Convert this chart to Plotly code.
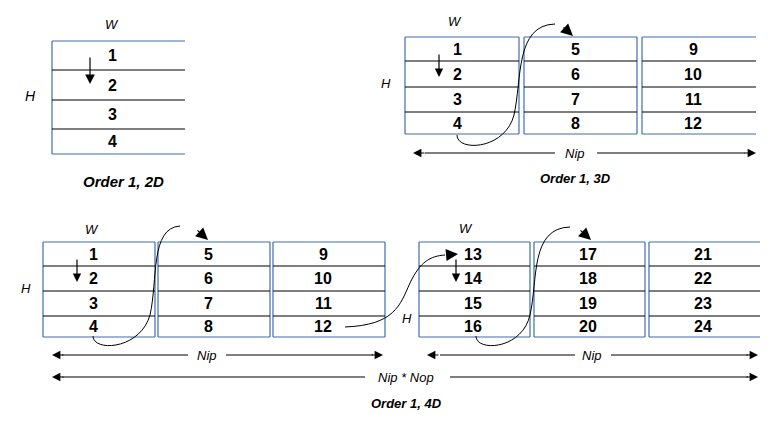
import plotly.graph_objects as go

# cell labels per block
labels_2d = ["1", "2", "3", "4"]
labels_3d = [["1", "2", "3", "4"], ["5", "6", "7", "8"], ["9", "10", "11", "12"]]
labels_4d = [["1", "2", "3", "4"], ["5", "6", "7", "8"], ["9", "10", "11", "12"],
             ["13", "14", "15", "16"], ["17", "18", "19", "20"], ["21", "22", "23", "24"]]
titles = ["Order 1, 2D", "Order 1, 3D", "Order 1, 4D"]

BLUE = "#3f6cb0"
fig = go.Figure()
shapes = []
ann = []


def block(x0, x1, ys, labels, lx, open_right=False):
    y0, y1 = ys[0], ys[-1]
    shapes.append(dict(type="line", x0=x0, x1=x1, y0=y0, y1=y0, line=dict(color=BLUE, width=1.2)))
    shapes.append(dict(type="line", x0=x0, x1=x1, y0=y1, y1=y1, line=dict(color=BLUE, width=1.2)))
    shapes.append(dict(type="line", x0=x0, x1=x0, y0=y0, y1=y1, line=dict(color=BLUE, width=1.2)))
    if not open_right:
        shapes.append(dict(type="line", x0=x1, x1=x1, y0=y0, y1=y1, line=dict(color=BLUE, width=1.2)))
    for y in ys[1:-1]:
        shapes.append(dict(type="line", x0=x0, x1=x1, y0=y, y1=y, line=dict(color="black", width=1.2)))
    for i, lab in enumerate(labels):
        yc = (ys[i] + ys[i + 1]) / 2
        ann.append(dict(x=lx, y=yc, text="<b>%s</b>" % lab, showarrow=False,
                        font=dict(size=16, color="black", family="Liberation Sans")))


def text(x, y, s, size=13, bold=False):
    s = "<i>%s</i>" % s
    if bold:
        s = "<b>%s</b>" % s
    ann.append(dict(x=x, y=y, text=s, showarrow=False,
                    font=dict(size=size, color="black", family="Liberation Sans")))


def arrow(x, y, ax, ay, size=1.0):
    ann.append(dict(x=x, y=y, ax=ax, ay=ay, axref="x", ayref="y", text="", showarrow=True,
                    arrowhead=2, arrowsize=size, arrowwidth=1.2, arrowcolor="black"))


def curve(path):
    shapes.append(dict(type="path", path=path, line=dict(color="black", width=1)))


def span(x0, x1, y):
    shapes.append(dict(type="line", x0=x0, x1=x1, y0=y, y1=y, line=dict(color="black", width=1)))


# 2D
block(52, 185, [41, 70, 100, 129, 154], labels_2d, 112, open_right=True)
text(112, 24, "W")
text(30, 96, "H", 14)
arrow(90, 84, 90, 56, 1.6)
text(123, 181, titles[0], 15, True)

# 3D
ys3 = [37, 61, 87, 112, 134]
xs3 = [(405, 519, 457), (524, 637, 575), (642, 756, 693)]
for i, (a, b, c) in enumerate(xs3):
    block(a, b, ys3, labels_3d[i], c, open_right=(i == 2))
text(455, 21, "W")
text(386, 83, "H")
arrow(439, 77, 439, 53, 1.4)
curve("M457,135 C457,152 505,150 514,115 C522,80 515,25 555,24")
arrow(573, 36, 562, 26, 2)
span(425, 555, 153)
span(597, 745, 153)
arrow(413, 153, 426, 153, 1.4)
arrow(756, 153, 743, 153, 1.4)
text(575, 153, "Nip")
text(575, 178, titles[1], 13, True)

# 4D
ys4 = [242, 266, 291, 316, 337]
xs4 = [(43, 155, 93), (158, 270, 208), (273, 385, 323),
       (419, 530, 473), (534, 645, 588), (649, 760, 703)]
for i, (a, b, c) in enumerate(xs4):
    block(a, b, ys4, labels_4d[i], c, open_right=(i == 5))
text(92, 229, "W")
text(26, 288, "H")
text(466, 228, "W")
text(407, 318, "H")
arrow(77, 282, 77, 258, 1.4)
arrow(456, 282, 456, 258, 1.4)
curve("M93,336 C93,352 140,350 150,315 C158,280 150,228 180,226")
arrow(208, 240, 196, 229, 2)
curve("M345,327 C395,325 400,305 410,283 C420,262 430,256 445,255")
arrow(458, 254, 446, 255, 2)
curve("M476,336 C476,352 522,350 530,315 C538,280 530,228 570,227")
arrow(591, 240, 579, 229, 2)
span(62, 188, 355)
span(226, 373, 355)
arrow(52, 355, 65, 355, 1.4)
arrow(383, 355, 370, 355, 1.4)
text(207, 355, "Nip")
span(440, 575, 355)
span(611, 748, 355)
arrow(427, 355, 440, 355, 1.4)
arrow(758, 355, 745, 355, 1.4)
text(592, 355, "Nip")
span(62, 365, 377)
span(450, 748, 377)
arrow(52, 377, 65, 377, 1.4)
arrow(758, 377, 745, 377, 1.4)
text(406, 377, "Nip * Nop")
text(406, 403, titles[2], 13, True)

# page body adds an 8px offset, so shift the ranges to compensate
fig.update_layout(
    width=775, height=428, margin=dict(l=0, r=0, t=0, b=0),
    paper_bgcolor="white", plot_bgcolor="white",
    xaxis=dict(range=[8, 783], visible=False, fixedrange=True),
    yaxis=dict(range=[436, 8], visible=False, fixedrange=True),
    shapes=shapes, annotations=ann, showlegend=False,
)
fig.write_html("out.html")
